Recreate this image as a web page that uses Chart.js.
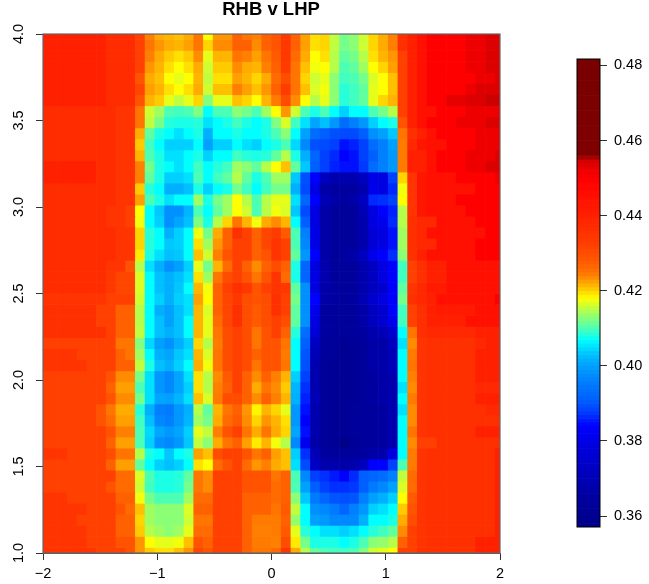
<!DOCTYPE html>
<html>
<head>
<meta charset="utf-8">
<title>RHB v LHP</title>
<script src="https://cdn.jsdelivr.net/npm/chart.js@4"></script>
<style>
body { margin: 0; background: #fff; }
canvas { position: absolute; top: 0; }
</style>
</head>
<body>
<canvas id="heat" width="542" height="584" style="left:0"></canvas>
<canvas id="key" width="107" height="584" style="left:542px"></canvas>
<script>
// values x 1000, first row is y = 4, last row is y = 1
var zRows = [
[440,440,440,440,440,440,440,437,437,437,432,424,422,421.5,421,422,425,418,423,423,427,425,424,427,429,434,427,422.5,419.5,420,415.5,412,413,416,420,422,424,436,440,445,449.5,449.5,449.5,449.5,452,452,454,454],
[440,440,440,440,440,440,440,437,437,437,432,425,423,422,421.5,422.5,425,420,423.5,423.5,427,427,423.5,427,429,434,427,422.5,419.5,420,415.5,412,413,416,420,422,424,436,440,445,449.5,449.5,449.5,449.5,452,452,454,454],
[440,440,440,440,440,440,440,437,437,437,432,424,422,420.5,419.5,420.5,423.5,417,421.5,421.5,425,424,422.5,425,428,434,426,422,418,419.5,415,411,412,415,419.5,421.5,423,432,440,445,449.5,449.5,449.5,449.5,452,452,454,454],
[440,440,440,440,440,440,440,437,437,437,432,423,421.5,419.5,418,419.5,422,416,420.5,420.5,423.5,422,421.5,424,427,433,425,421,417.5,418,415,410,411,414,418,420,422.5,432,440,445,449.5,449.5,449.5,449.5,452,452,454,454],
[440,440,440,440,440,440,440,437,437,437,429,422,421,418,417,418,421.5,415.5,419.5,419.5,422.5,421.5,420,422,426,430,425,420,416,417,413,409.5,410,412,416.5,418,421,432,440,445,449.5,449.5,449.5,449.5,449.5,452,452,454],
[440,440,440,440,440,440,440,437,437,437,431,422.5,421.5,419.5,418,419.5,422,416,421,421,424,422.5,421,423,427,433,425,421,416.5,417.5,413,408.5,409.5,411,417,418,421,432,440,445,449.5,449.5,449.5,449.5,452,454,454,454],
[440,440,440,440,440,440,440,437,437,437,429,421.5,420.5,417,415.5,417,420,412.5,417,417,421,420,418,421.5,424.5,430,423.5,418,415,417,413,408.5,409.5,411,417,420,421.5,432,440,445,449.5,449.5,453,453,454,454,455,455],
[437,437,437,437,437,437,437,437,435,435,425,416,414,410,409.5,410,412.5,407,410,410,413,412,410,414,418,423,416,410,408,410,407,404,407,407,410,412,415,432,440,445,445,449.5,449.5,449.5,452,452,452,452],
[437,437,437,437,437,437,437,437,435,435,425,415.5,412,408.5,408,408,408.5,405,407,408,409.5,408,407,408,412.5,416.5,409.5,405,400.5,403,399,393,396,399,404,407,408,429,440,445,449.5,449.5,449.5,452,452,452,454,454],
[437,437,437,437,437,437,437,437,435,435,422,411,408,407,405,407,408,401.5,407,407,408,407,407,408,410,413,407,400,393,391,389.5,389,389,391,398,400,403.5,425,436,440,445,449.5,449.5,449.5,449.5,452,452,452],
[437,437,437,437,437,437,437,437,435,435,420.5,409.5,407,404,404,404,407,400,404,404,407,405,404,407,408,410,404.5,397,389.5,389,388,385,386,388,393,396,400,424.5,438,443,445,445,449.5,449.5,449.5,452,452,452],
[437,437,437,437,437,437,437,437,435,435,421.5,410,408,405,405,407,408,404,407,407,409.5,408.5,408,408.5,411,415,408,401.5,392,388,386.5,384,385,388,391,396,399,424.5,440,440,445,449.5,449.5,449.5,452,452,452,454],
[440,440,440,440,440,440,437,437,435,435,424,412,408,407,405,407,409.5,407,408.5,409.5,414,413,411,415,418,421,411,403.5,391,388,386,385,385,387.5,393,396,399,424.5,440,440,445,449.5,449.5,449.5,452,452,454,454],
[440,440,440,440,440,440,437,437,435,435,424,411,408,404,404,405,410,407,409.5,411,415,411,408,410,414,414,403.5,389.5,384,372,368,368,368,372,380,379,388,420,435,443,445,445,445,449.5,449.5,449.5,449.5,452],
[437,437,437,437,437,437,437,437,435,435,420.5,408.5,407,401.5,401.5,403,408,404,407,408,412,409.5,407,409.5,412,412,401.5,389,379,367,365,365,365,368,381,379,386.5,417.5,435,443,445,445,445,445,445,449.5,449.5,449.5],
[437,437,437,437,437,437,437,437,435,435,422.5,410,408,405,407,407,414,408,412,414,418,415,410,415,417,417,405,392,384,370,367,365,367,372,386.5,387,388,418,435,443,445,445,445,449.5,449.5,449.5,449.5,449.5],
[437,437,437,437,437,437,437,435,435,432,418,407,403.5,398,398,402,410,407,411,414,418,416,410,415,417.5,416.5,403.5,389,379,367,364,363,364,370,379,384,386,415,435,443,445,445,445,445,449.5,449.5,449.5,449.5],
[437,437,437,437,437,437,437,435,435,432,417.5,407,404,398,400.5,403,412.5,408,415,420,425,421.5,417.5,422,423.5,421.5,407,391,379,367,364,363,364,368,379,381,386.5,415,436,438,438,445,445,445,445,449.5,449.5,449.5],
[437,437,437,437,437,437,437,437,435,435,420,408.5,407,401.5,404,407,417.5,412,422,427,436,432,427,431,433,428,410,396,380,367,364,363,364,368,377,379,385,414,436,438,445,445,445,445,445,445,449.5,449.5],
[437,437,437,437,437,437,437,437,435,435,420,408.5,407,403.5,404,407,419.5,414,423,427,432,432,427,431,435,432,410,397,380,367,364,363,364,368,377,379,385,414,436,438,438,445,445,445,445,449.5,449.5,449.5],
[437,437,437,437,437,437,437,437,435,435,419,408,405,403,403.5,407,421,416,424,429,432,432,427,429,435,432,411,399,384,367,364,365,367,372,381,384,387,413,436,440,445,445,445,445,445,449.5,449.5,449.5],
[437,437,437,437,437,437,437,435,435,429,415,405,401.5,398,400,404,417,412,421.5,426,432,427,423.5,427,430,427,408,392,379,368,364,363,364,368,372,379,384,409.5,432,436,440,440,445,445,445,445,445,445],
[437,437,437,437,437,437,437,434,431,431,416.5,407,403,401.5,403,405,419.5,414,425,430,432,429,425,429,435,426,408,392,379,368,364,363,364,368,372,379,384,409.5,432,436,440,440,445,445,445,445,445,445],
[437,437,437,437,437,437,437,434,431,431,416.5,407,403,401.5,403.5,407,421.5,417.5,427,432,436,434,429,432,435,434,411,398,379,367,365,364,364,368,372,375,384,411,435,438,442,442,445,445,445,445,445,445],
[435,435,435,435,435,435,435,432,432,432,416,407,404,401.5,404,405,422.5,418,427,431,434,430,429,430,436,432,412,398,384,367,365,364,365,370,375,379,384,412,436,438,440,445,445,445,445,445,445,449.5],
[436,436,436,436,436,436,432,432,427,427,415,407,401.5,400,403,405,421.5,416.5,427,431,436,430,428,430,436,432,411,398,381,365,364,363,364,367,372,375,384,409.5,432,436,440,442,442,442,442,445,445,445],
[436,436,436,436,436,436,432,432,427,427,415,407,403,400,403,407,421.5,417,426,431,436,430,428,430,432,430,411,398,379,365,364,363,364,367,372,375,381,409.5,432,436,440,440,440,440,445,445,445,445],
[436,436,436,436,436,436,436,432,427,427,415.5,407,403,401.5,403,407,421.5,417,425,430,432,430,425,429,432,427,408.5,393,377,365,364,363,364,365,368,370,375,407,425,436,438,438,438,438,438,440,440,440],
[432,432,432,432,432,432,432,432,425,425,412.5,404.5,400,398,401.5,404,420,415,424.5,430,432,430,425,429,429,425,407,391,372,364,363,361,362,364,367,367,372,405,423.5,435,436,436,436,436,436,438,440,440],
[435,435,435,435,432,432,432,432,427,425,414,407,401.5,400.5,403.5,405,421.5,416.5,425,430,432,430,427,429,429,424.5,407,390,370,364,363,361,362,364,367,367,370,407,424.5,435,436,436,436,436,436,440,440,440],
[435,435,435,435,435,432,432,432,427,427,415.5,408,403,401.5,404,407,422,417.5,425,430,432,430,425,429,429,425,407,389.5,368,363,362,361,362,364,367,367,370,407,425,435,436,436,436,436,436,440,440,440],
[432,432,432,432,432,432,432,429,423.5,423.5,412,405,399,397,400.5,405,419.5,415,423.5,428,432,427,423.5,427,424,421.5,404,388,368,363,361,361,362,364,365,367,368,407,424,435,436,436,436,436,436,440,440,440],
[432,432,432,432,432,432,432,427,422.5,422.5,410,405,399,397,400.5,404,419.5,415,424,427,432,427,422,425,423.5,420.5,402,387,368,363,361,361,362,364,365,367,368,405,423.5,435,436,436,436,436,436,438,438,438],
[432,432,432,432,432,432,432,429,423.5,423.5,412,405,400.5,400,402,405,421,416.5,424.5,430,430,427,423.5,427,424,421.5,401.5,386,370,363,361,361,362,364,365,367,368,407,424.5,435,436,436,436,436,436,440,440,440],
[432,432,432,432,432,432,429,425,422,422,408.5,401.5,396,395,399,401.5,415,411,421.5,425,427,423,418.5,421.5,420,417,399,385,368,364,362,362,363,364,364,365,368,405,423.5,435,436,436,436,436,436,436,438,438],
[432,432,432,432,432,432,429,426,422.5,422.5,409.5,403,397,396,399,402,414,412,422,426,428,423.5,420,423,421.5,419.5,399,384,368,364,362,362,363,364,364,365,368,407,423.5,435,436,436,436,436,436,436,436,436],
[432,432,432,432,432,432,432,429,424,424,410,404.5,400.5,399,400.5,404,417,415.5,424,429,432,425,422,425,422,420,400.5,385,368,364,362,362,363,364,364,365,368,407,425,435,436,436,436,436,436,440,440,440],
[432,432,432,432,432,432,432,427,422.5,422.5,410,404,398,397,399,403.5,415.5,413,422,425,427,422.5,419,421.5,417.5,415,397,381,367,363,362,358,362,364,364,365,368,407,423.5,432,432,436,436,436,436,436,436,436],
[435,435,435,432,432,432,432,430,425,425,415,408,407,403.5,407,408,422.5,421,430,432,432,429,425,427,422.5,421,404,387,370,365,364,364,364,365,367,368,379,407,424.5,435,436,436,436,436,436,436,436,440],
[432,432,432,432,432,432,432,427,422.5,422.5,411,407,404,403,404,407,419.5,418,426,429,432,426,423,424,422,421,405,389,373,368,368,367,368,372,384,384,388,410,424.5,435,436,436,436,436,436,436,436,440],
[432,432,432,432,432,432,432,432,426,426,416.5,410,408,408,408.5,411,425,423.5,432,432,432,429,429,429,425,427,410,397,388,387,385.5,384,386.5,391,392,393,396,415.5,426,435,436,436,436,436,436,436,436,440],
[432,432,432,432,432,432,432,429,426,426,416,409.5,408,408,408.5,412,425,423.5,432,432,432,429,429,429,426,427,410,400,391,388,387,387,387.5,391,395,397,400,416.5,426,435,436,436,436,436,436,436,436,440],
[435,435,435,432,432,432,432,432,427,427,417.5,412,410,410,410,414,426,426,432,432,432,427,427,427,426,427,413,403.5,395,392,390,389.5,390,396,400,401.5,404,418,428,435,436,436,436,436,436,436,436,440],
[435,435,435,435,435,432,432,432,429,426,421,414,413,413,413,416.5,427,427,432,432,432,427,427,427,425,428,415.5,407,398,397,395,392,396,399,404,405,407,420.5,429,435,436,436,436,436,436,436,436,440],
[435,435,435,435,432,432,432,432,427,427,420,414,413,413,413,416,425,425,432,432,432,427,424.5,424.5,424.5,427,413.5,407,400,399,397,397,397,401.5,407,407,408,422,430,435,436,436,436,436,436,436,436,440],
[435,435,435,435,435,432,432,432,427,427,420.5,415,414,413,414,417,426,426,432,432,432,427,424,424,424.5,428,417,408.5,407,405,405,404,405,407,408.5,409.5,411,423.5,432,435,436,436,436,436,436,436,436,440],
[435,435,435,435,435,432,432,432,429,429,423,418,417,417,417.5,421,429,427,432,432,432,427,424.5,424.5,424,430,419,412,408,408,408,407,408,410,413,413.5,415,427,432,435,436,436,436,436,436,440,440,440],
[435,435,435,435,435,435,432,432,432,429,423,420.5,419.5,419.5,421,423,431,429,432,432,432,427,425,425,426,435,422,415,411,410,409.5,409.5,410,412.5,416,417,418,432,432,436,436,436,436,436,436,440,440,440]
];
var xTicks = [-2, -1, 0, 1, 2];
var yTicks = [1, 1.5, 2, 2.5, 3, 3.5, 4];
var keyTicks = [0.36, 0.38, 0.40, 0.42, 0.44, 0.46, 0.48];
var title = 'RHB v LHP';

// colour key: value x 1000 and its colour
var stopZ = [357, 365, 372, 379, 384, 388, 391, 396, 400, 403, 405, 407, 409.5, 412.5, 415.5, 418, 421, 424, 427, 432, 436, 440, 445, 449.5, 452, 454, 455, 456, 482];
var stopCol = ['#000088', '#0000a0', '#0000c0', '#0000e0', '#0000ff', '#0040ff', '#0060ff', '#0080ff', '#00a0ff', '#00c0ff', '#00e0ff', '#00ffff', '#40ffc0', '#80ff80', '#c0ff40', '#ffff00', '#ffc000', '#ff8000', '#ff6000', '#ff4000', '#ff3000', '#ff2000', '#ff1000', '#ff0000', '#ee0000', '#dd0000', '#cc0000', '#800000', '#780000'];

function hexPart(c, i) {
    return parseInt(c.substr(1 + i * 2, 2), 16);
}

function colourFor(z) {
    var i = 0;
    while (i < stopZ.length - 2 && z > stopZ[i + 1]) i++;
    var t = Math.max(0, Math.min(1, (z - stopZ[i]) / (stopZ[i + 1] - stopZ[i])));
    var rgb = [0, 1, 2].map(function (k) {
        var a = hexPart(stopCol[i], k), b = hexPart(stopCol[i + 1], k);
        return Math.round(a + (b - a) * t);
    });
    return 'rgb(' + rgb.join(',') + ')';
}

// image() cell centres: 48 points from -2 to 2 and from 4 down to 1
var nCells = zRows.length;
var dx = 4 / (nCells - 1), dy = 3 / (nCells - 1);

var rowSets = zRows.map(function (row, j) {
    var yMid = 4 - j * dy;
    return {
        data: row.map(function (z, i) {
            return { x: -2 + i * dx, y: [yMid - dy / 2, yMid + dy / 2] };
        }),
        backgroundColor: row.map(colourFor),
        grouped: false,
        barPercentage: 1,
        categoryPercentage: 1,
        borderWidth: 0
    };
});

// box round the plot
var framePlugin = {
    id: 'frame',
    afterDraw: function (chart, args, opts) {
        var a = chart.chartArea, c = chart.ctx;
        c.save();
        c.strokeStyle = opts.color;
        c.lineWidth = opts.width;
        c.strokeRect(a.left, a.top, a.right - a.left, a.bottom - a.top);
        c.restore();
    }
};

var textFont = { family: '"Liberation Sans", Arial, sans-serif', size: 14.5 };

new Chart(document.getElementById('heat').getContext('2d'), {
    type: 'bar',
    data: { datasets: rowSets },
    plugins: [framePlugin],
    options: {
        responsive: false,
        animation: false,
        plugins: {
            legend: { display: false },
            tooltip: { enabled: false },
            frame: { color: '#666', width: 1.2 },
            title: {
                display: true,
                text: title,
                color: '#000',
                font: { family: textFont.family, size: 18.5, weight: 'bold', lineHeight: 1 },
                padding: { top: 1, bottom: 14.5 }
            }
        },
        scales: {
            x: {
                type: 'linear',
                min: -2,
                max: 2,
                offset: false,
                afterBuildTicks: function (s) { s.ticks = xTicks.map(function (v) { return { value: v }; }); },
                afterFit: function (s) { s.height = 31; },
                grid: { offset: false, drawOnChartArea: false, tickLength: 7, tickColor: '#333' },
                border: { color: '#555' },
                ticks: {
                    color: '#000',
                    font: textFont,
                    padding: 5,
                    maxRotation: 0,
                    callback: function (v) { return String(v).replace('-', '\u2212'); }
                }
            },
            y: {
                min: 1,
                max: 4,
                afterBuildTicks: function (s) { s.ticks = yTicks.map(function (v) { return { value: v }; }); },
                afterFit: function (s) { s.width = 43; },
                grid: { drawOnChartArea: false, tickLength: 7, tickColor: '#333' },
                border: { color: '#555' },
                ticks: {
                    color: '#000',
                    font: textFont,
                    padding: 7,
                    minRotation: 90,
                    maxRotation: 90,
                    crossAlign: 'center',
                    callback: function (v) { return v.toFixed(1); }
                }
            },
            // empty right axis, keeps the title centred over the plot
            yRight: {
                position: 'right',
                min: 1,
                max: 4,
                afterFit: function (s) { s.width = 42; },
                grid: { display: false },
                border: { display: false },
                ticks: { display: false }
            }
        }
    }
});

// colour bar, one horizontal bar per level
var keyLevels = [];
for (var lv = 357.5; lv < 482; lv += 1) keyLevels.push(lv);

new Chart(document.getElementById('key').getContext('2d'), {
    type: 'bar',
    data: {
        datasets: [{
            data: keyLevels.map(function (z) { return { x: 1, y: z / 1000 }; }),
            backgroundColor: keyLevels.map(colourFor),
            barPercentage: 1,
            categoryPercentage: 1,
            borderWidth: 0
        }]
    },
    plugins: [framePlugin],
    options: {
        indexAxis: 'y',
        responsive: false,
        animation: false,
        layout: { padding: { left: 35, top: 59, bottom: 57 } },
        plugins: {
            legend: { display: false },
            tooltip: { enabled: false },
            frame: { color: '#000', width: 1 }
        },
        scales: {
            x: { type: 'linear', min: 0, max: 1, display: false },
            y: {
                type: 'linear',
                position: 'right',
                min: 0.3571,
                max: 0.4817,
                offset: false,
                afterBuildTicks: function (s) { s.ticks = keyTicks.map(function (v) { return { value: v }; }); },
                afterFit: function (s) { s.width = 49; },
                grid: { offset: false, drawOnChartArea: false, tickLength: 7, tickColor: '#333' },
                border: { display: false },
                ticks: {
                    color: '#000',
                    font: textFont,
                    padding: 7,
                    callback: function (v) { return v.toFixed(2); }
                }
            }
        }
    }
});
</script>
</body>
</html>
